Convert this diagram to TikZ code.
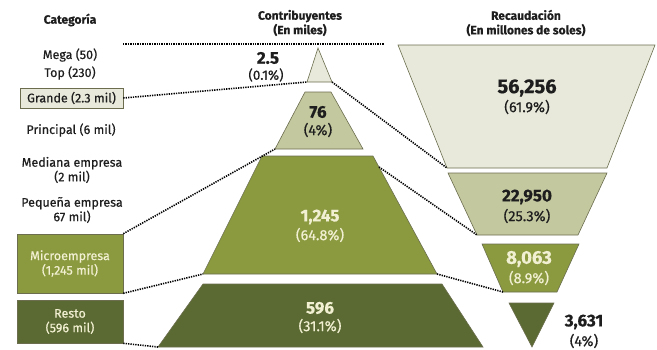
\documentclass[tikz,border=0pt]{standalone}
\usepackage{fontspec}
\setmainfont{Fira Sans}[FakeBold=0.5]
\usepackage{tikz}
\usetikzlibrary{positioning}

\definecolor{cLight}{HTML}{E8E9DA}
\definecolor{cPale}{HTML}{C4C89F}
\definecolor{cMid}{HTML}{8B9A3F}
\definecolor{cDark}{HTML}{5B6A32}
\definecolor{cLine}{HTML}{6B6D4E}
\definecolor{cText}{HTML}{1E1E1E}
\definecolor{cCream}{HTML}{F2F0D2}

\begin{document}
\begin{tikzpicture}[x=1pt,y=-1pt, every node/.style={font=\fontsize{12.5}{14.5}\selectfont, text=cText, align=center, inner sep=0pt}]
		\tikzstyle{lvl}=[draw=cLine, line width=0.6pt]
		\tikzstyle{dots}=[line width=1.6pt, dash pattern=on 1.3pt off 1.1pt, black]
		\tikzstyle{big}=[font=\fontsize{17}{18}\selectfont\bfseries]
		\tikzstyle{pct}=[font=\fontsize{14.5}{16}\selectfont]
		\tikzstyle{head}=[font=\fontsize{12}{14.5}\selectfont\bfseries]
		\tikzstyle{catbox}=[lvl, minimum width=106pt, text=cCream]
		
		\useasboundingbox (0,0) rectangle (657,349);
		
		% headers
		\node[head] (hcat) at (70,20)  {Categoría};
		\node[head] (hcon) at (300,23) {Contribuyentes\\(En miles)};
		\node[head] (hrec) at (526,23) {Recaudación\\(En millones de soles)};
		
		% categories
		\node (mega)  at (70,55)  {Mega (50)};
		\node (top)   at (70,73)  {Top (230)};
		\node[lvl, fill=cLight, minimum width=103pt, minimum height=20pt] (grande) at (71.5,98) {Grande (2.3 mil)};
		\node (princ) at (71,130) {Principal (6 mil)};
		\node (med)   at (72,170) {Mediana empresa\\(2 mil)};
		\node (peq)   at (72,210) {Pequeña empresa\\67 mil)};
		\node[catbox, fill=cMid, minimum height=59pt] (micro) at (70,263.5) {Microempresa\\(1,245 mil)};
		\node[catbox, fill=cDark, minimum height=43pt] (resto) at (70,321.5) {Resto\\(596 mil)};
		
		% contribuyentes
		\draw[lvl, fill=cLight] (318,48) -- (332,82) coordinate (triR) -- (307,82) coordinate (triL) -- cycle;
		\draw[lvl, fill=cPale] (305,92) -- (331,92) -- (363,149) -- (275,149) coordinate (c76L) -- cycle;
		\draw[lvl, fill=cMid] (262,156) -- (373,156) -- (437,274) coordinate (c1245R) -- (203,274) coordinate (c1245L) -- cycle;
		\draw[lvl, fill=cDark] (203,284) -- (442,284) -- (483,347) -- (158,347) coordinate (c596L) -- cycle;
		\coordinate (c1245S) at (379,167);
		
		\node[big] (n25) at (268,58) {2.5};
		\node[pct, font=\fontsize{13.5}{15}\selectfont] (p25) at (266,75) {(0.1\%)};
		\node[big] (n76) at (318,112) {76};
		\node[pct] (p76) at (318,130) {(4\%)};
		\node[big, text=cCream] (n1245) at (320,217) {1,245};
		\node[pct, text=cCream] (p1245) at (320,235) {(64.8\%)};
		\node[big, text=cCream] (n596) at (320,308) {596};
		\node[pct, text=cCream] (p596) at (320,326) {(31.1\%)};
		
		% recaudacion
		\draw[lvl, fill=cLight] (398,45) coordinate (r1TL) -- (655,45) -- (607,168) -- (447,168) coordinate (r1BL) -- cycle;
		\draw[lvl, fill=cPale] (448,173) -- (607,173) -- (578,235) -- (477,235) coordinate (r2BL) -- cycle;
		\draw[lvl, fill=cMid] (482,244) -- (579,244) -- (557,292) -- (503,292) coordinate (r3BL) -- cycle;
		\draw[lvl, fill=cDark] (509,303) -- (554,303) -- (532,347) -- cycle;
		
		\node[big, font=\fontsize{20}{22}\selectfont\bfseries] (n56) at (527,88) {56,256};
		\node[pct] (p56) at (527,107) {(61.9\%)};
		\node[big] (n229) at (527,197) {22,950};
		\node[pct] (p229) at (527,216) {(25.3\%)};
		\node[big, font=\fontsize{18.5}{20}\selectfont\bfseries, text=cCream] (n8) at (529,259) {8,063};
		\node[pct, text=cCream] (p8) at (529,278) {(8.9\%)};
		\node[big] (n36) at (584,322) {3,631};
		\node[pct] (p36) at (584,341) {(4\%)};
		
		\coordinate (topL) at (123,44);
		\coordinate (topR) at (384,44);
		
		\path[dots]
		(topL) edge (topR)
		(grande.east) edge (triL)
		(triR) edge (r1BL)
		(micro.north east) edge (c76L)
		(c1245S) edge (r2BL)
		(micro.south east) edge (c1245L)
		(c1245R) edge (r3BL)
		(resto.south east) edge (c596L)
		;
\end{tikzpicture}
\end{document}
